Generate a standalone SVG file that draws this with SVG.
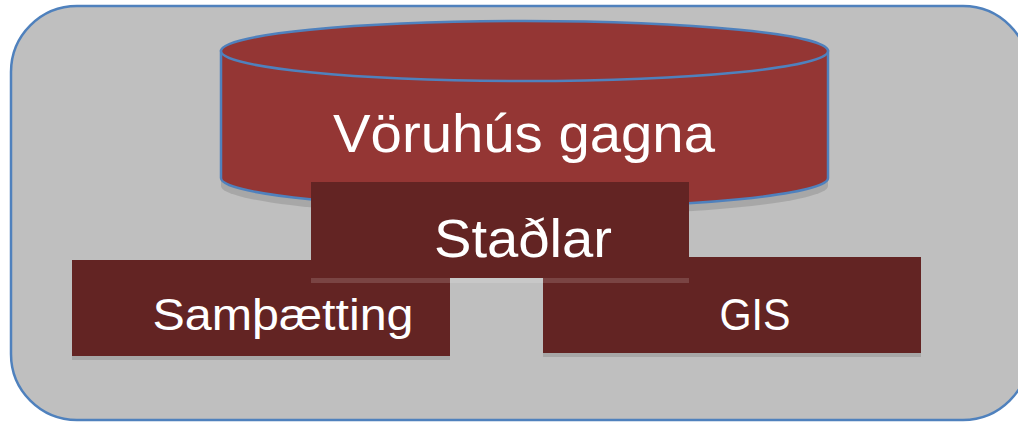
<svg xmlns="http://www.w3.org/2000/svg" width="1018" height="425" viewBox="0 0 1018 425">
<style>
.lbl{font-family:"Liberation Sans","DejaVu Sans",sans-serif;fill:#FFFFFF;text-anchor:middle}
.box{fill:#632423}
.shd{fill:#000000;opacity:0.12}
</style>
<rect x="11" y="6" width="1018" height="414" rx="66" ry="66" fill="#BFBFBF" stroke="#4F81BD" stroke-width="2.5"/>
<g id="cylinder">
<path d="M221,55 L221,182 A303.5,30 0 0 0 828,182 L828,55 Z" fill="#000000" opacity="0.12" transform="translate(0,4)"/>
<path d="M221,51 L221,178 A303.5,30 0 0 0 828,178 L828,51 Z" fill="#943634" stroke="#4F81BD" stroke-width="2.5"/>
<ellipse cx="524.5" cy="51" rx="303.5" ry="30" fill="#943634" stroke="#4F81BD" stroke-width="2.5"/>
<text class="lbl" x="524" y="152" font-size="54" textLength="382" lengthAdjust="spacingAndGlyphs">Vöruhús gagna</text>
</g>
<g id="samthaetting">
<rect class="shd" x="72" y="260" width="378" height="100"/>
<rect class="box" x="72" y="260" width="378" height="96"/>
<text class="lbl" x="283" y="330" font-size="45" textLength="261" lengthAdjust="spacingAndGlyphs">Samþætting</text>
</g>
<g id="gis">
<rect class="shd" x="543" y="257" width="378" height="100"/>
<rect class="box" x="543" y="257" width="378" height="96"/>
<text class="lbl" x="755" y="330" font-size="45" textLength="71" lengthAdjust="spacingAndGlyphs">GIS</text>
</g>
<g id="stadlar">
<rect x="311" y="182" width="378" height="101" fill="#FFFFFF" opacity="0.15"/>
<rect class="box" x="311" y="182" width="378" height="96"/>
<text class="lbl" x="523" y="257" font-size="54" textLength="178" lengthAdjust="spacingAndGlyphs">Staðlar</text>
</g>
<g id="connectors"/>
</svg>
